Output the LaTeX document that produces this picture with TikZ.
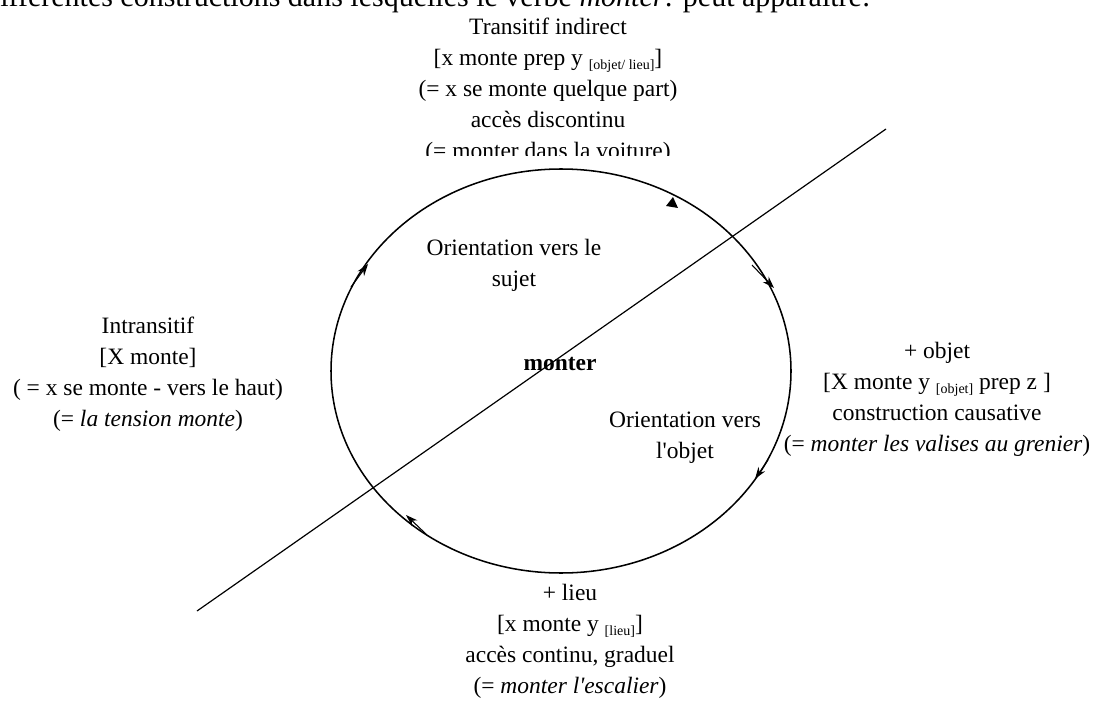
\documentclass[tikz,border=0pt]{standalone}
\usepackage{fontspec}
\setmainfont{Liberation Serif}
\usetikzlibrary{arrows.meta}
\newcommand\subtx[1]{\raisebox{-3pt}{\fontsize{10.5}{12}\selectfont #1}}
\begin{document}
\begin{tikzpicture}[x=0.75pt,y=-0.75pt,
  txt/.style={align=center, inner sep=0pt, font=\fontsize{17.6}{23.25}\selectfont},
  ring/.style={line width=1.15pt},
  axis/.style={line width=0.9pt},
  arr/.style={line width=0.8pt, -{Stealth[length=9pt,width=6pt]}}]
\useasboundingbox (0,0) rectangle (1095,702);
\clip (0,0) rectangle (1095,702);
\fill[white] (0,0) rectangle (1095,702);
% header (cut by the page edge)
\node[txt, font=\fontsize{22.5}{26}\selectfont, anchor=base west] (head) at (-15,7)
  {différentes constructions dans lesquelles le verbe \textit{monter}: peut apparaître:};
% top block (clipped)
\begin{scope}
\clip (0,0) rectangle (1095,156);
\node[txt, anchor=north] (top) at (548,18)
  {Transitif indirect\\ {[}x monte prep y \subtx{[objet/ lieu]}]\\ (= x se monte quelque part)\\ accès discontinu\\ (= monter dans la voiture)};
\end{scope}
% ellipse
\draw[ring] (561,371) ellipse [x radius=172.5pt, y radius=151.5pt];
% diagonal line
\coordinate (la) at (197,611);
\coordinate (lb) at (886,129);
\draw[axis] (la) -- (lb);
% arrows on the ellipse
\coordinate (a1s) at (351,287); \coordinate (a1e) at (368,264);
\coordinate (a3s) at (752,265); \coordinate (a3e) at (774,288);
\coordinate (a4s) at (768,460); \coordinate (a4e) at (755,479);
\coordinate (a5s) at (427,535); \coordinate (a5e) at (406,515);
\draw[arr] (a1s) -- (a1e);
\draw[arr] (a3s) -- (a3e);
\draw[arr] (a4s) -- (a4e);
\draw[arr] (a5s) -- (a5e);
\fill (666,206) -- (673,197) -- (678,208) -- cycle;
% inner labels
\node[txt, anchor=north] (suj) at (514,239) {Orientation vers le\\ sujet};
\node[txt, anchor=base, font=\fontsize{17.6}{23.25}\selectfont\bfseries] (mon) at (560,370) {monter};
\node[txt, anchor=north] (obj) at (685,412) {Orientation vers\\ l\textquotesingle objet};
% outer blocks
\node[txt, anchor=north] (intr) at (148,317)
  {Intransitif\\ {[}X monte]\\ ( = x se monte - vers le haut)\\ (= \textit{la tension monte})};
\node[txt, anchor=north] (pobj) at (937,342)
  {+ objet\\ {[}X monte y \subtx{[objet]} prep z ]\\ construction causative\\ (= \textit{monter les valises au grenier})};
\node[txt, anchor=north] (plieu) at (570,584)
  {+ lieu\\ {[}x monte y \subtx{[lieu]}]\\ accès continu, graduel\\ (= \textit{monter l\textquotesingle escalier})};
\end{tikzpicture}
\end{document}
